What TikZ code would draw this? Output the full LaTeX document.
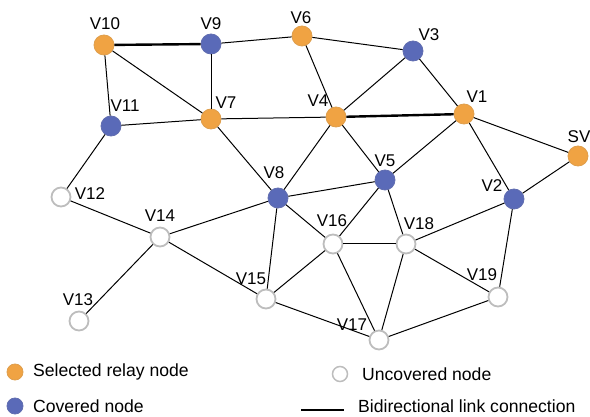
\documentclass[tikz,border=0pt]{standalone}
\usepackage{fontspec}
\setmainfont{Liberation Sans}
\definecolor{relay}{HTML}{F0A343}
\definecolor{cover}{HTML}{5A6AB8}
\definecolor{ring}{HTML}{BDBDBD}
\begin{document}
\begin{tikzpicture}[x=1pt,y=-1pt,
  vtx/.style={circle,minimum size=20pt,inner sep=0pt},
  rel/.style={vtx,fill=relay,draw=relay!85!gray,line width=0.8pt},
  cov/.style={vtx,fill=cover,draw=cover!85!gray,line width=0.8pt},
  unc/.style={vtx,fill=white,draw=ring,line width=1.8pt,minimum size=19pt},
  lab/.style={font=\fontsize{17}{19}\selectfont,inner sep=0pt},
  edge/.style={line width=1pt},
  bold/.style={line width=2.4pt},
  legtext/.style={font=\fontsize{17.6}{20}\selectfont,inner sep=0pt,anchor=west}]
\useasboundingbox (0,0) rectangle (590,417);
% nodes
\node[rel] (V10) at (104,45) {};
\node[cov] (V9) at (211,44) {};
\node[rel] (V6) at (302,36) {};
\node[cov] (V3) at (413,51) {};
\node[cov] (V11) at (111,126) {};
\node[rel] (V7) at (211,119) {};
\node[rel] (V4) at (336,117) {};
\node[rel] (V1) at (464,114) {};
\node[rel] (SV) at (578,156) {};
\node[cov] (V5) at (385,180) {};
\node[cov] (V2) at (514,199) {};
\node[cov] (V8) at (278,198) {};
\node[unc] (V12) at (61,197) {};
\node[unc] (V14) at (160,237) {};
\node[unc] (V16) at (333,244) {};
\node[unc] (V18) at (406,244) {};
\node[unc] (V15) at (266,299) {};
\node[unc] (V19) at (498,297) {};
\node[unc] (V17) at (379,340) {};
\node[unc] (V13) at (79,321) {};
% edges
\draw[bold] (V10) -- (V9);
\draw[bold] (V4) -- (V1);
\draw[edge] (V10) -- (V11);
\draw[edge] (V10) -- (V7);
\draw[edge] (V9) -- (V7);
\draw[edge] (V9) -- (V6);
\draw[edge] (V6) -- (V3);
\draw[edge] (V6) -- (V4);
\draw[edge] (V3) -- (V4);
\draw[edge] (V3) -- (V1);
\draw[edge] (V11) -- (V7);
\draw[edge] (V11) -- (V12);
\draw[edge] (V7) -- (V4);
\draw[edge] (V7) -- (V8);
\draw[edge] (V4) -- (V8);
\draw[edge] (V4) -- (V5);
\draw[edge] (V1) -- (V5);
\draw[edge] (V1) -- (SV);
\draw[edge] (V1) -- (V2);
\draw[edge] (SV) -- (V2);
\draw[edge] (V8) -- (V5);
\draw[edge] (V8) -- (V14);
\draw[edge] (V8) -- (V15);
\draw[edge] (V8) -- (V16);
\draw[edge] (V12) -- (V14);
\draw[edge] (V14) -- (V13);
\draw[edge] (V14) -- (V15);
\draw[edge] (V5) -- (V16);
\draw[edge] (V5) -- (V18);
\draw[edge] (V16) -- (V18);
\draw[edge] (V16) -- (V15);
\draw[edge] (V16) -- (V17);
\draw[edge] (V18) -- (V17);
\draw[edge] (V18) -- (V19);
\draw[edge] (V18) -- (V2);
\draw[edge] (V2) -- (V19);
\draw[edge] (V19) -- (V17);
\draw[edge] (V15) -- (V17);
% labels
\node[lab] (tV10) at (105,24) {V10};
\node[lab] (tV9) at (211,24) {V9};
\node[lab] (tV6) at (301,18) {V6};
\node[lab] (tV3) at (429,35) {V3};
\node[lab] (tV11) at (125,106) {V11};
\node[lab] (tV7) at (226,103) {V7};
\node[lab] (tV4) at (318,101) {V4};
\node[lab] (tV1) at (477,97) {V1};
\node[lab] (tSV) at (579,137) {SV};
\node[lab] (tV5) at (385,161) {V5};
\node[lab] (tV2) at (492,186) {V2};
\node[lab] (tV8) at (274,173) {V8};
\node[lab] (tV12) at (90,194) {V12};
\node[lab] (tV14) at (160,216) {V14};
\node[lab] (tV13) at (78,300) {V13};
\node[lab] (tV15) at (251,279) {V15};
\node[lab] (tV16) at (332,221) {V16};
\node[lab] (tV18) at (419,224) {V18};
\node[lab] (tV19) at (482,275) {V19};
\node[lab] (tV17) at (352,325) {V17};
% legend
\node[rel,minimum size=16pt] (L1) at (15,372) {};
\node[legtext] (L1t) at (33,372) {Selected relay node};
\node[cov,minimum size=16pt] (L2) at (15,406) {};
\node[legtext] (L2t) at (33,406) {Covered node};
\node[unc,minimum size=15pt,line width=1.5pt] (L3) at (340,374) {};
\node[legtext] (L3t) at (362,374) {Uncovered node};
\coordinate (La) at (301,410);
\coordinate (Lb) at (344,410);
\draw[bold] (La) -- (Lb);
\node[legtext] (L4t) at (358,406) {Bidirectional link connection};
\end{tikzpicture}
\end{document}
